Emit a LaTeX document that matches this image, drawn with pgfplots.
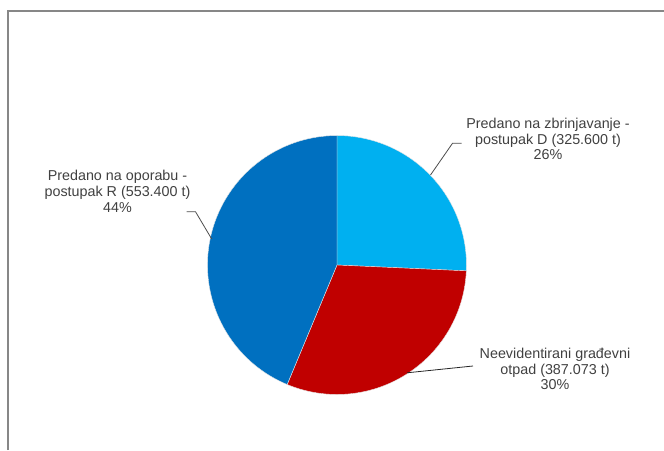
\documentclass[border=0pt]{standalone}
\usepackage{pgfplots}
\usepackage{pgfplotstable}
\usepackage{fontspec}
\setmainfont{Liberation Sans}
\pgfplotsset{compat=1.18}

\definecolor{sliceD}{HTML}{00B0F0}
\definecolor{sliceN}{HTML}{C00000}
\definecolor{sliceR}{HTML}{0070C0}
\definecolor{frame}{HTML}{878787}
\definecolor{lbl}{HTML}{404040}

% tonnes per disposal route, clockwise from 12 o'clock
\pgfplotstableread{
route value
D 325.600
N 387.073
R 553.400
}\piedata

\pgfplotstablegetelem{0}{value}\of\piedata \let\vD\pgfplotsretval
\pgfplotstablegetelem{1}{value}\of\piedata \let\vN\pgfplotsretval
\pgfplotstablegetelem{2}{value}\of\piedata \let\vR\pgfplotsretval
\pgfmathsetmacro{\tot}{\vD+\vN+\vR}
\pgfmathsetmacro{\aA}{90}
\pgfmathsetmacro{\aB}{\aA-360*(\vD/\tot)}
\pgfmathsetmacro{\aC}{\aB-360*(\vN/\tot)}
\pgfmathsetmacro{\aE}{\aC-360*(\vR/\tot)}
\def\rad{97.1pt}

\begin{document}
\begin{tikzpicture}
\begin{axis}[
  width=498pt, height=337.5pt, scale only axis,
  xmin=0, xmax=664, ymin=0, ymax=450, y dir=reverse,
  hide axis, clip=false]
% frame
\draw[frame, line width=1.1pt] (axis cs:8,450) -- (axis cs:8,11) -- (axis cs:664,11);
% slices
\filldraw[fill=sliceD, draw=white!80!gray, line width=0.3pt] (axis cs:337,265) -- ++(\aA:\rad) arc[start angle=\aA, end angle=\aB, radius=\rad] -- cycle;
\filldraw[fill=sliceN, draw=white!80!gray, line width=0.3pt] (axis cs:337,265) -- ++(\aB:\rad) arc[start angle=\aB, end angle=\aC, radius=\rad] -- cycle;
\filldraw[fill=sliceR, draw=white!80!gray, line width=0.3pt] (axis cs:337,265) -- ++(\aC:\rad) arc[start angle=\aC, end angle=\aE, radius=\rad] -- cycle;
% leader lines
\draw[gray!60!black, line width=0.6pt] (axis cs:430.5,175) -- (axis cs:452.5,143.3) -- (axis cs:461.5,143.3);
\draw[black!85, line width=0.6pt] (axis cs:407,372.8) -- (axis cs:473,366);
\draw[gray!60!black, line width=0.6pt] (axis cs:186.7,211.7) -- (axis cs:195.5,211.7) -- (axis cs:211.7,239);
% labels
\tikzset{every node/.style={font=\fontsize{10.75}{11.9}\selectfont, text=lbl, align=center, inner sep=0pt}}
\node at (axis cs:548,139) {Predano na zbrinjavanje -\\postupak D (325.600 t)\\26\%};
\node at (axis cs:555,369) {Neevidentirani građevni\\otpad (387.073 t)\\30\%};
\node at (axis cs:117.5,191) {Predano na oporabu -\\postupak R (553.400 t)\\44\%};
\end{axis}
\pgfresetboundingbox
\path (0,0) rectangle (498pt,337.5pt);
\end{tikzpicture}
\end{document}
